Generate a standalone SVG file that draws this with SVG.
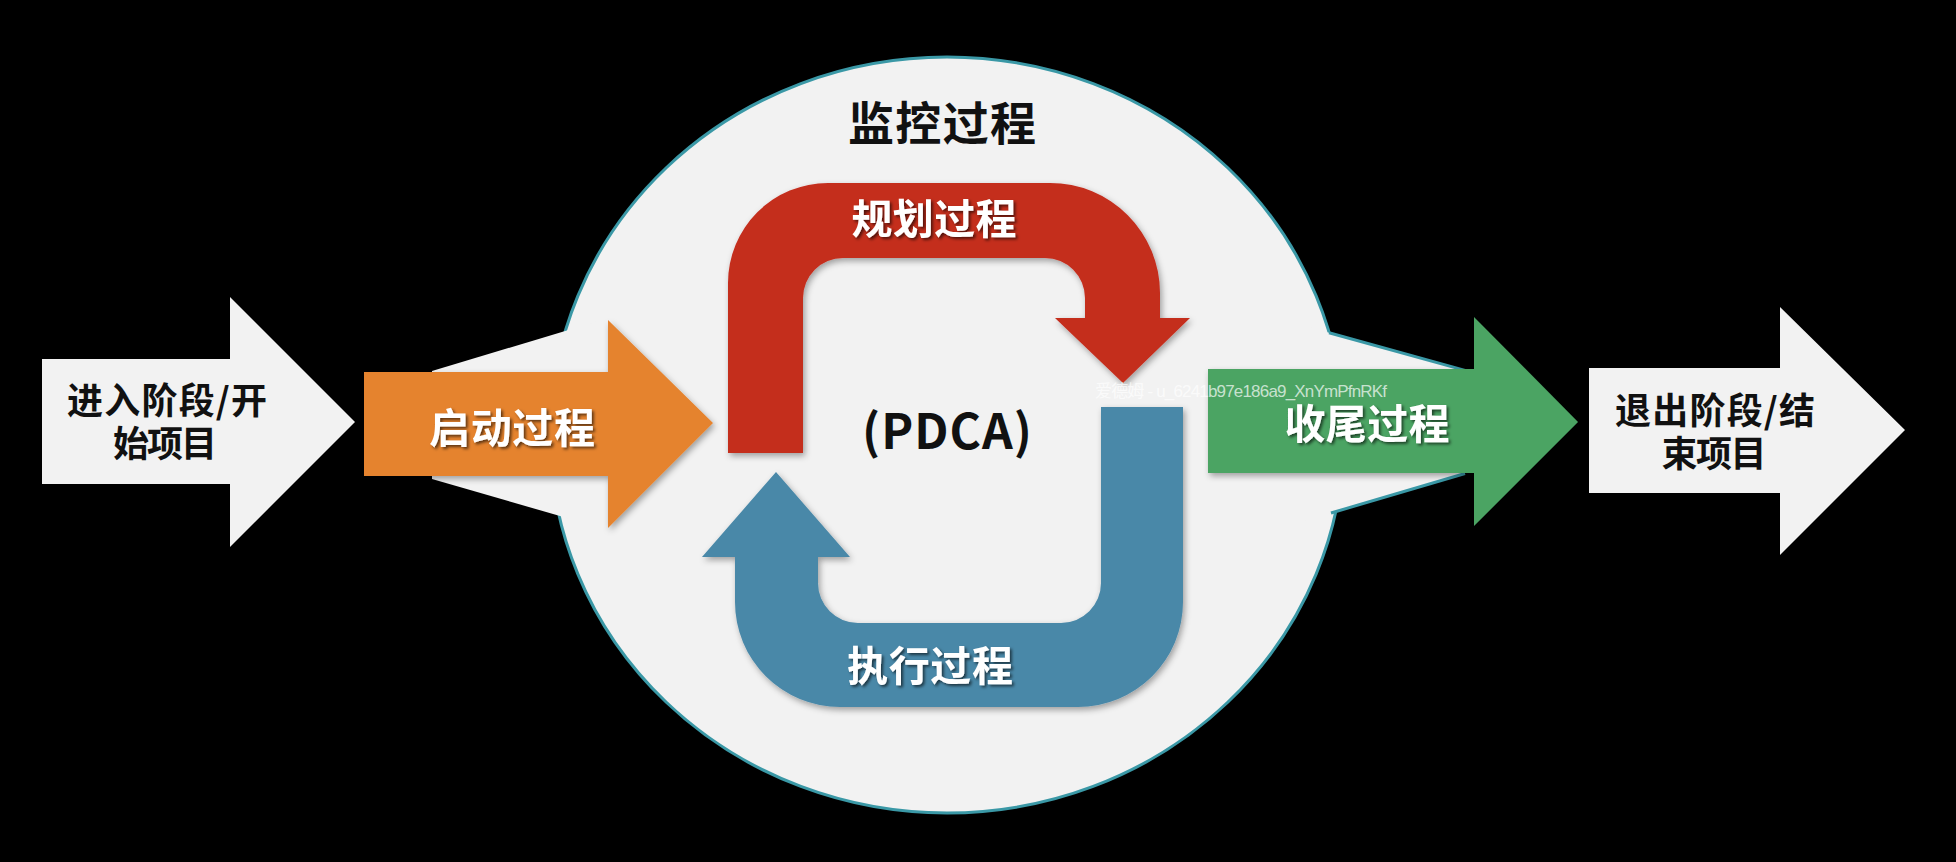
<svg xmlns="http://www.w3.org/2000/svg" width="1956" height="862" viewBox="0 0 1956 862">
  <defs>
    <filter id="shadow" x="-10%" y="-10%" width="130%" height="130%">
      <feDropShadow dx="2" dy="3" stdDeviation="3" flood-color="#000" flood-opacity="0.35"/>
    </filter>
    <filter id="tshadow" x="-10%" y="-20%" width="130%" height="150%">
      <feDropShadow dx="2" dy="2" stdDeviation="1.5" flood-color="#000" flood-opacity="0.6"/>
    </filter>
    <style>
      .cjk { font-family: "Noto Sans CJK SC", "Noto Sans", sans-serif; font-weight: 700; text-anchor: middle; }
      .dark { fill: #111111; }
      .light { fill: #FFFFFF; filter: url(#tshadow); }
      .whiteArrow { fill: #F2F2F2; }
      .bg { fill: #F2F2F2; }
      .teal { stroke: #3A98A6; stroke-width: 3; fill: none; }
    </style>
  </defs>

  <rect x="0" y="0" width="1956" height="862" fill="#000000"/>

  <!-- Monitoring process (big circle with tabs) -->
  <g id="monitor">
    <ellipse cx="947" cy="435" rx="397" ry="378" class="bg" stroke="#3A98A6" stroke-width="3"/>
    <polygon class="bg" points="600,320.5 432,371 432,479 600,527.6"/>
    <polygon class="bg" points="1300,324.7 1465,370.4 1465,473.5 1300,521.8"/>
    <line class="teal" x1="1329" y1="332.7" x2="1465" y2="370.4"/>
    <line class="teal" x1="1331" y1="513" x2="1465" y2="473.5"/>
    <text class="cjk dark" x="942" y="140" font-size="46" textLength="188">监控过程</text>
  </g>

  <!-- Enter phase -->
  <g id="enter">
    <polygon class="whiteArrow" points="42,359 230,359 230,297 355,422 230,547 230,484 42,484"/>
    <text class="cjk dark" x="167" y="414" font-size="36" textLength="200">进入阶段/开</text>
    <text class="cjk dark" x="165" y="457" font-size="36" textLength="104">始项目</text>
  </g>

  <!-- Initiating -->
  <g id="initiating" filter="url(#shadow)">
    <polygon fill="#E5832F" points="364,372 608,372 608,320 713,423 608,528 608,476 364,476"/>
  </g>
  <text class="cjk light" x="512" y="443" font-size="41" textLength="166">启动过程</text>

  <!-- Planning -->
  <g id="planning" filter="url(#shadow)">
    <path fill="#C42D1E" d="M 728 453 L 728 283 A 100 100 0 0 1 828 183 L 1050 183 A 110 110 0 0 1 1160 293 L 1160 318 L 1190 318 L 1123 383 L 1055 318 L 1085 318 L 1085 298 A 40 40 0 0 0 1045 258 L 843 258 A 40 40 0 0 0 803 298 L 803 453 Z"/>
  </g>
  <text class="cjk light" x="934" y="234" font-size="41" textLength="165">规划过程</text>

  <!-- Executing -->
  <g id="executing" filter="url(#shadow)">
    <path fill="#4A88A8" d="M 1183 407 L 1183 602 A 105 105 0 0 1 1078 707 L 840 707 A 105 105 0 0 1 735 602 L 735 557 L 702 557 L 776 472 L 850 557 L 818 557 L 818 583 A 40 40 0 0 0 858 623 L 1061 623 A 40 40 0 0 0 1101 583 L 1101 407 Z"/>
  </g>
  <text class="cjk light" x="930" y="681" font-size="41" textLength="166">执行过程</text>

  <!-- PDCA label -->
  <g id="pdca">
    <text class="cjk dark" x="947" y="449" font-size="48" textLength="170">(PDCA)</text>
  </g>

  <!-- Closing -->
  <g id="closing" filter="url(#shadow)">
    <polygon fill="#4BA463" points="1208,369 1474,369 1474,317 1578,422 1474,526 1474,473 1208,473"/>
  </g>
  <text class="cjk light" x="1367" y="439" font-size="41" textLength="165">收尾过程</text>

  <!-- Exit phase -->
  <g id="exit">
    <polygon class="whiteArrow" points="1589,368 1780,368 1780,307 1905,430 1780,555 1780,493 1589,493"/>
    <text class="cjk dark" x="1715" y="424" font-size="36" textLength="200">退出阶段/结</text>
    <text class="cjk dark" x="1714" y="467" font-size="36" textLength="105">束项目</text>
  </g>

  <!-- watermark -->
  <text x="1095" y="397" font-family="'Liberation Sans', 'Noto Sans CJK SC', sans-serif" font-size="17" fill="#FFFFFF" fill-opacity="0.7" textLength="292">爱德姆 - u_6241b97e186a9_XnYmPfnRKf</text>

  <g id="connectors"></g>
</svg>
